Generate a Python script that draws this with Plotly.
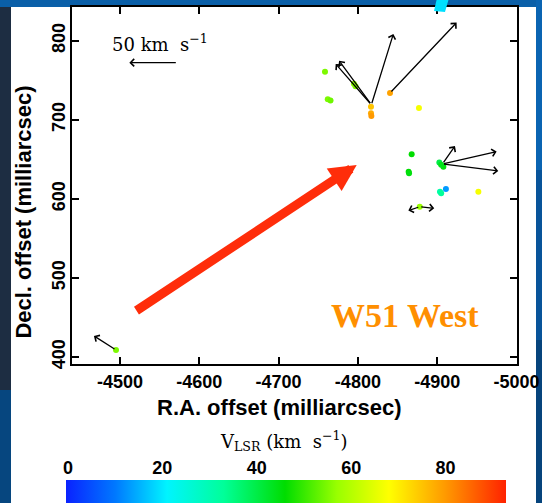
import plotly.graph_objects as go

W, H = 542, 503

# ---------------- data ----------------
# maser spots: R.A. offset (mas), Decl. offset (mas), V_LSR (km/s)
ra = [-4758.5, -4762.0, -4765.5, -4795.0, -4797.0, -4816.5, -4816.5, -4817.0, -4840.5, -4877.0,
      -4867.8, -4864.0, -4864.5, -4902.7, -4907.8, -4905.0, -4903.5, -4905.0, -4911.0, -4951.9,
      -4878.0, -4495.0]
dec = [760.8, 725.9, 724.2, 745.5, 742.5, 716.6, 708.2, 704.8, 733.9, 714.9,
       656.4, 634.4, 632.4, 645.8, 640.7, 643.0, 609.0, 607.0, 612.5, 609.0,
       590.0, 409.0]
vlsr = [55, 55, 54, 56, 55, 75, 78, 80, 79, 67,
        46, 46, 45, 40, 45, 44, 31, 33, 13, 67,
        57, 55]

# proper-motion vectors: origin (mas) and velocity (km/s)
vec_ra0 = [-4817.0, -4817.0, -4817.0, -4840.5, -4906.7, -4906.7, -4906.7, -4878.0, -4878.0, -4495.0]
vec_dec0 = [719.0, 719.0, 719.0, 733.9, 644.1, 644.1, 644.1, 590.0, 590.0, 409.0]
vec_vra = [33.6, 37.2, -22.9, -69.4, -13.0, -56.4, -58.1, 11.9, -15.1, 23.0]
vec_vdec = [46.0, 42.6, 74.0, 73.5, 18.8, 12.9, -7.3, -4.0, -1.6, 14.6]
MAS_PER_KMS = 1.21

# scale vector
scale_ra0, scale_dec0, scale_v = -4572.3, 772.2, 50

# big red arrow (tail -> head, mas)
red_tail = (-4518.9, 457.4)
red_head = (-4798.5, 642.9)

# axes / colour bar
x_range = [-4439.5, -5000]
y_range = [391.8, 842.2]
xtick_vals = [-4500, -4600, -4700, -4800, -4900, -5000]
xtick_text = ["-4500", "-4600", "-4700", "-4800", "-4900", "-5000"]
ytick_vals = [400, 500, 600, 700, 800]
ytick_text = ["400", "500", "600", "700", "800"]
cmin, cmax = -0.4, 92.8
cb_ticks = [0, 20, 40, 60, 80]

colorscale_vals = [0, 10, 21, 33, 46, 57, 68, 80, 93]
colorscale_cols = ["#0a22ff", "#0078ff", "#00f4ff", "#00ff99", "#00dd00",
                   "#99ff00", "#ffff00", "#ff9900", "#ff2200"]

# ---------------- layout helpers ----------------
def px(xp):
    return xp / W

def py(yp):
    return 1 - yp / H

PL, PR, PT, PB = 72, 516.5, 7.3, 363.5
CB_L, CB_R, CB_T = 66, 506, 479.5

colorscale = [[(v - cmin) / (cmax - cmin), c] for v, c in zip(colorscale_vals, colorscale_cols)]
colorscale[0][0] = 0.0
colorscale[-1][0] = 1.0

fig = go.Figure()

fig.add_trace(go.Scatter(
    x=ra, y=dec, mode="markers",
    marker=dict(size=6, color=vlsr, colorscale=colorscale, cmin=cmin, cmax=cmax,
                line=dict(width=0), showscale=True,
                colorbar=dict(orientation="h", x=px((CB_L + CB_R) / 2), xanchor="center",
                              y=py(CB_T), yanchor="top", lenmode="pixels", len=CB_R - CB_L,
                              thickness=30, xpad=0, ypad=0, outlinewidth=0,
                              showticklabels=False, ticks="")),
    hoverinfo="skip", showlegend=False, xaxis="x", yaxis="y"))

# helper trace for the colour-bar tick axis
fig.add_trace(go.Scatter(x=[], y=[], xaxis="x2", yaxis="y2", showlegend=False, hoverinfo="skip"))

bold = dict(family="Liberation Sans", size=18, color="black", weight="bold")
axis_common = dict(showline=True, linecolor="black", linewidth=1.5, mirror="ticks",
                   ticks="inside", ticklen=7, tickwidth=1.5, tickcolor="black",
                   showgrid=False, zeroline=False, tickfont=bold, fixedrange=True)

fig.update_layout(
    width=W, height=H,
    margin=dict(l=0, r=0, t=0, b=0, autoexpand=False),
    paper_bgcolor="#0a5fa8", plot_bgcolor="white",
    xaxis=dict(domain=[px(PL), px(PR)], range=x_range, tickmode="array",
               tickvals=xtick_vals, ticktext=xtick_text, anchor="y",
               ticklabelstandoff=1, **axis_common),
    yaxis=dict(domain=[py(PB), py(PT)], range=y_range, tickmode="array",
               tickvals=ytick_vals, ticktext=ytick_text, anchor="x", tickangle=-90,
               ticklabelstandoff=-2, **axis_common),
    xaxis2=dict(domain=[px(CB_L), px(CB_R)], range=[cmin, cmax], tickmode="array",
                tickvals=cb_ticks, ticktext=[str(t) for t in cb_ticks], side="top",
                anchor="free", position=py(CB_T - 2), showline=False, ticks="",
                showgrid=False, zeroline=False, tickfont=bold, fixedrange=True),
    yaxis2=dict(domain=[0, 0.02], anchor="x2", visible=False, fixedrange=True),
    showlegend=False,
)

# background decoration (slide frame)
shapes = [
    dict(type="rect", xref="paper", yref="paper", x0=px(11), x1=px(536), y0=py(503), y1=py(7),
         fillcolor="white", line=dict(width=0), layer="below"),
    dict(type="rect", xref="paper", yref="paper", x0=0, x1=px(11), y0=py(390), y1=py(7),
         fillcolor="#1d2d42", line=dict(width=0), layer="below"),
    dict(type="rect", xref="paper", yref="paper", x0=0, x1=px(11), y0=0, y1=py(390),
         fillcolor="#06467f", line=dict(width=0), layer="below"),
    dict(type="rect", xref="paper", yref="paper", x0=px(536), x1=1, y0=py(170), y1=1,
         fillcolor="#0a64b2", line=dict(width=0), layer="below"),
    dict(type="rect", xref="paper", yref="paper", x0=px(536), x1=1, y0=py(340), y1=py(170),
         fillcolor="#08549a", line=dict(width=0), layer="below"),
    dict(type="rect", xref="paper", yref="paper", x0=px(536), x1=1, y0=0, y1=py(340),
         fillcolor="#06447c", line=dict(width=0), layer="below"),
    dict(type="path", xref="paper", yref="paper",
         path=f"M {px(437)},{py(-2)} L {px(449)},{py(-2)} L {px(445)},{py(12)} L {px(434)},{py(11)} Z",
         fillcolor="#00e0ff", line=dict(width=0), layer="above"),
]
fig.update_layout(shapes=shapes)

ann = []
# proper-motion arrows
for r0, d0, vr, vd in zip(vec_ra0, vec_dec0, vec_vra, vec_vdec):
    ann.append(dict(x=r0 + vr * MAS_PER_KMS, y=d0 + vd * MAS_PER_KMS, ax=r0, ay=d0,
                    xref="x", yref="y", axref="x", ayref="y", text="", showarrow=True,
                    arrowhead=4, arrowsize=1.1, arrowwidth=1.3, arrowcolor="black",
                    standoff=0, startstandoff=0))
# scale arrow
ann.append(dict(x=scale_ra0 + scale_v * MAS_PER_KMS, y=scale_dec0, ax=scale_ra0, ay=scale_dec0,
                xref="x", yref="y", axref="x", ayref="y", text="", showarrow=True,
                arrowhead=4, arrowsize=1.1, arrowwidth=1.3, arrowcolor="black",
                standoff=0, startstandoff=0))
ann.append(dict(x=-4487.4, y=796.5, xref="x", yref="y", xanchor="left", yanchor="middle",
                text="50\u00a0km\u00a0\u00a0s<sup>\u22121</sup>", showarrow=False,
                font=dict(family="DejaVu Serif", size=18, color="black")))
# big red arrow
ann.append(dict(x=red_head[0], y=red_head[1], ax=red_tail[0], ay=red_tail[1],
                xref="x", yref="y", axref="x", ayref="y", text="", showarrow=True,
                arrowhead=2, arrowsize=0.6, arrowwidth=9, arrowcolor="#ff2d0a",
                standoff=0, startstandoff=0))
# W51 West label
ann.append(dict(x=-4859.4, y=453, xref="x", yref="y", text="W51 West", showarrow=False,
                font=dict(family="Liberation Serif", size=34, color="#ff8f00", weight="bold")))
# axis titles
ann.append(dict(x=px(279), y=py(407), xref="paper", yref="paper", text="R.A. offset (milliarcsec)",
                showarrow=False, xanchor="center", yanchor="middle",
                font=dict(family="Liberation Sans", size=22, color="black", weight="bold")))
ann.append(dict(x=px(24), y=py(212.6), xref="paper", yref="paper", text="Decl. offset (milliarcsec)",
                showarrow=False, xanchor="center", yanchor="middle", textangle=-90,
                font=dict(family="Liberation Sans", size=22, color="black", weight="bold")))
# colour bar title
ann.append(dict(x=px(284), y=py(441), xref="paper", yref="paper",
                text="V<sub>LSR</sub>\u00a0(km\u00a0\u00a0s<sup>\u22121</sup>)",
                showarrow=False, xanchor="center", yanchor="middle",
                font=dict(family="DejaVu Serif", size=18, color="black")))
fig.update_layout(annotations=ann)

fig.write_html("out.html")
